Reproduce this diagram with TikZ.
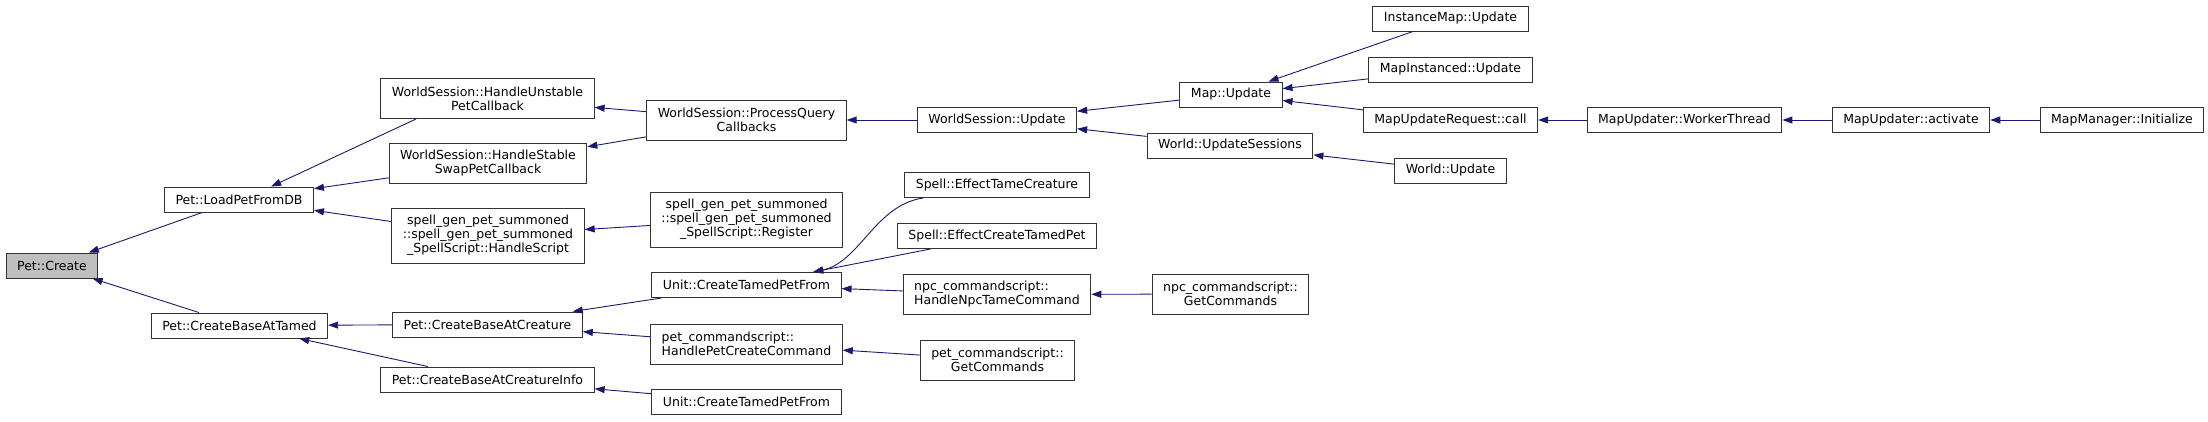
\documentclass[tikz,border=0pt]{standalone}
\usepackage{fontspec}
\setmainfont{DejaVu Sans}
\usetikzlibrary{arrows.meta}
\definecolor{callblue}{HTML}{191970}
\definecolor{rootgrey}{HTML}{BFBFBF}

\begin{document}
\begin{tikzpicture}[x=1pt, y=-1pt, font=\fontsize{12.5}{14}\selectfont]
    \tikzstyle{func}=[draw=black!80, fill=white, line width=1pt, inner xsep=11pt, inner ysep=0pt, minimum height=25pt]
    \tikzstyle{func2}=[func, align=center, minimum height=40pt]
    \tikzstyle{func3}=[func, align=center, minimum height=55pt]
    \tikzstyle{root func}=[func, fill=rootgrey]
    \tikzstyle{call}=[draw=callblue, line width=0.9pt, {Triangle[length=10pt,width=7pt]}-]

    \useasboundingbox (0,0) rectangle (2208,421);

    % The function whose callers are shown
    \node[root func] (create) at (52,265.5) {Pet::Create};

    % Draw the one-line callers
    \foreach \name/\x/\y/\txt in {load/239/199.5/Pet::LoadPetFromDB,
        tamed/239.5/325.5/Pet::CreateBaseAtTamed,
        atcreature/487.5/324.5/Pet::CreateBaseAtCreature,
        atinfo/487.5/379.5/Pet::CreateBaseAtCreatureInfo,
        tamedfrom/746.5/285/Unit::CreateTamedPetFrom,
        tamedfrom2/746.5/402/Unit::CreateTamedPetFrom,
        wsupdate/997/120/WorldSession::Update,
        efftame/997/185/Spell::EffectTameCreature,
        effcreate/997/236/Spell::EffectCreateTamedPet,
        mapupdate/1231/94.5/Map::Update,
        updsess/1230/145.5/World::UpdateSessions,
        instmap/1450.5/18.5/InstanceMap::Update,
        mapinst/1450.5/69.5/MapInstanced::Update,
        mapreq/1450.5/120/MapUpdateRequest::call,
        worldupd/1450.5/170.5/World::Update,
        worker/1684.5/120/MapUpdater::WorkerThread,
        activate/1911/120/MapUpdater::activate,
        mgrinit/2122/120/MapManager::Initialize}
        \node[func] (\name) at (\x,\y) {\txt};

    % Callers with split names
    \node[func2] (unstable) at (487.5,98.5) {WorldSession::HandleUnstable\\PetCallback};
    \node[func2] (stable) at (488,163.5) {WorldSession::HandleStable\\SwapPetCallback};
    \node[func3] (handlescript) at (488,235.5) {spell\_gen\_pet\_summoned\\::spell\_gen\_pet\_summoned\\\_SpellScript::HandleScript};
    \node[func2] (pqc) at (746.5,120) {WorldSession::ProcessQuery\\Callbacks};
    \node[func3] (register) at (746.5,219.5) {spell\_gen\_pet\_summoned\\::spell\_gen\_pet\_summoned\\\_SpellScript::Register};
    \node[func2, align=left] (petcreate) at (746.5,344) {pet\_commandscript::\\HandlePetCreateCommand};
    \node[func2, align=left] (npctame) at (997,294.5) {npc\_commandscript::\\HandleNpcTameCommand};
    \node[func2] (petget) at (997.5,360) {pet\_commandscript::\\GetCommands};
    \node[func2] (npcget) at (1230.5,294) {npc\_commandscript::\\GetCommands};

    % Connect every caller to the function it calls
    \foreach \from/\to in {load/create, tamed/create, stable/load, handlescript/load,
        atcreature/tamed, atinfo/tamed, pqc/unstable, pqc/stable,
        register/handlescript, tamedfrom/atcreature, petcreate/atcreature,
        tamedfrom2/atinfo, wsupdate/pqc, effcreate/tamedfrom, npctame/tamedfrom,
        petget/petcreate, mapupdate/wsupdate, updsess/wsupdate, npcget/npctame,
        instmap/mapupdate, mapinst/mapupdate, mapreq/mapupdate, worldupd/updsess,
        worker/mapreq, activate/worker, mgrinit/activate}
        \draw[call] (\to) -- (\from);

    \draw[call] (load.22) -- (unstable.196);
    \draw[call] (tamedfrom.11) .. controls (860,262) and (875,205) .. (efftame.190);
\end{tikzpicture}
\end{document}
